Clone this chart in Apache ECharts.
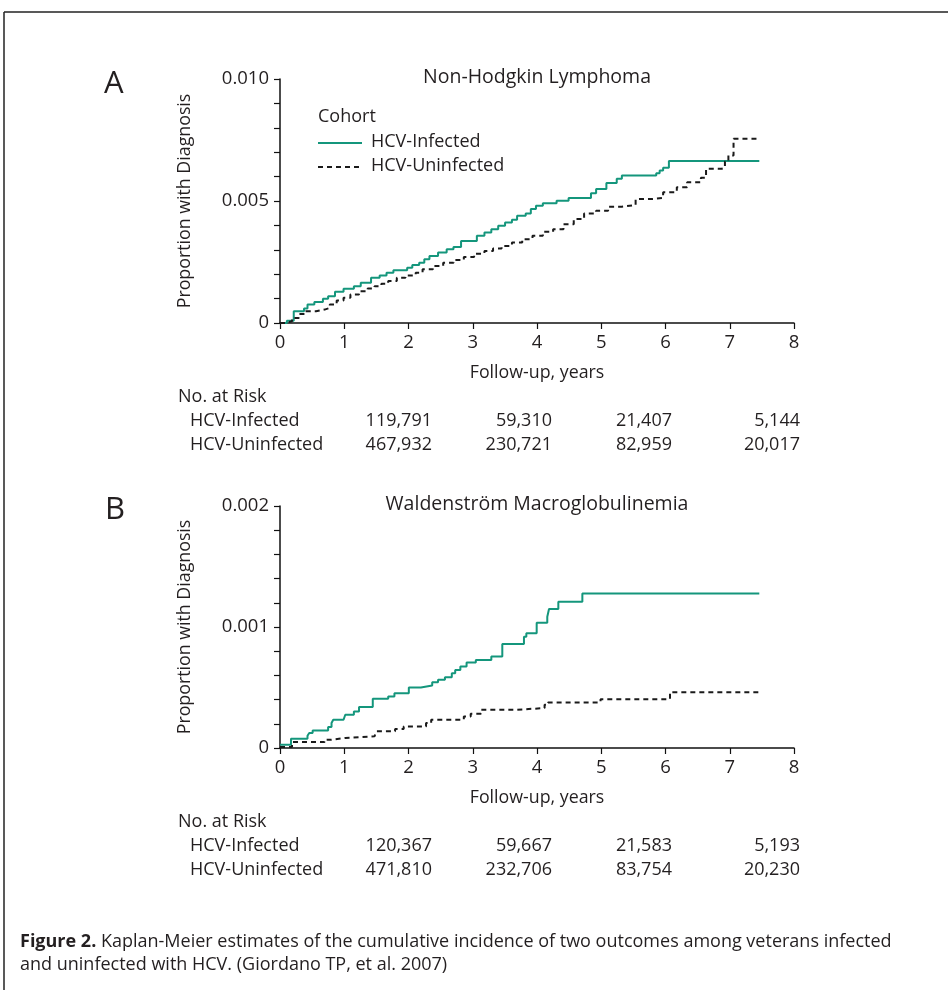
<!DOCTYPE html>
<html><head><meta charset="utf-8">
<style>html,body{margin:0;padding:0;background:#fff}#c{width:948px;height:990px}</style>
<script src="https://cdn.jsdelivr.net/npm/echarts@6/dist/echarts.min.js"></script>
</head><body><div id="c"></div>
<script>
// ---- Data ----
const xTickLabels = ['0','1','2','3','4','5','6','7','8'];
const yTickLabelsA = ['0','0.005','0.010'];
const yTickLabelsB = ['0','0.001','0.002'];
const seriesNames = ['HCV-Infected','HCV-Uninfected'];
const panelTitles = ['Non-Hodgkin Lymphoma','Waldenström Macroglobulinemia'];

// Panel A: HCV-Infected
const tA_inf = [0,0.107,0.214,0.374,0.428,0.535,0.668,0.749,0.856,0.989,1.150,1.257,1.417,1.551,1.658,1.765,1.979,2.059,2.166,2.246,2.326,2.460,2.594,2.700,2.818,3.064,3.182,3.289,3.396,3.503,3.610,3.690,3.824,3.904,3.984,4.091,4.305,4.492,4.840,4.920,5.080,5.241,5.321,5.856,5.909,5.963,6.053,7.46];
const pA_inf = [0,0.000096,0.00048,0.00059,0.000755,0.000865,0.000989,0.001099,0.001277,0.001401,0.001511,0.001648,0.001854,0.001951,0.00206,0.002157,0.002266,0.002376,0.002473,0.00261,0.002747,0.002885,0.003022,0.003118,0.003365,0.003571,0.003709,0.003846,0.003984,0.004121,0.004231,0.004396,0.004492,0.00467,0.004808,0.004904,0.005014,0.005124,0.005316,0.005495,0.005742,0.005907,0.006044,0.00614,0.00625,0.00636,0.006635,0.006635];
// Panel A: HCV-Uninfected
const tA_un = [0,0.08,0.187,0.294,0.401,0.561,0.695,0.775,0.882,0.989,1.096,1.230,1.364,1.471,1.578,1.684,1.818,1.952,2.112,2.219,2.380,2.540,2.701,2.861,3.021,3.182,3.316,3.449,3.610,3.770,3.930,4.091,4.251,4.412,4.572,4.733,4.920,5.107,5.321,5.535,5.802,5.963,6.176,6.337,6.551,6.631,6.872,6.925,6.979,7.059,7.433];
const pA_un = [0,0.000069,0.000206,0.000371,0.000481,0.000549,0.000618,0.000755,0.00092,0.00103,0.001168,0.001305,0.001415,0.001511,0.001607,0.001717,0.001854,0.001951,0.00206,0.002198,0.002335,0.002473,0.002582,0.002706,0.002843,0.002953,0.003049,0.003159,0.003297,0.003434,0.003571,0.003736,0.003846,0.004052,0.004258,0.004492,0.004602,0.004766,0.004835,0.005082,0.005124,0.005357,0.005563,0.005769,0.005948,0.006319,0.00636,0.006621,0.006868,0.007555,0.007555];
// Panel B: HCV-Infected
const tB_inf = [0,0.171,0.428,0.455,0.508,0.749,0.802,0.829,0.989,1.016,1.150,1.230,1.444,1.684,1.781,2.005,2.193,2.369,2.460,2.567,2.674,2.727,2.807,2.904,3.048,3.289,3.460,3.797,3.834,3.995,4.160,4.187,4.332,4.706,7.46];
const pB_inf = [0.0000275,0.0000769,0.0001016,0.0001236,0.0001456,0.0001731,0.000206,0.0002335,0.0002473,0.0002747,0.0003022,0.0003379,0.0004066,0.0004258,0.0004533,0.0005,0.0005165,0.000544,0.0005632,0.0005852,0.0006181,0.0006456,0.0006731,0.000706,0.000728,0.0007555,0.0008599,0.0009203,0.0009478,0.0010357,0.0010852,0.0011484,0.0012088,0.0012775,0.0012775];
// Panel B: HCV-Uninfected
const tB_un = [0,0.187,0.695,0.802,1.016,1.471,1.497,1.791,1.925,2.273,2.353,2.861,2.968,3.128,3.663,4.118,4.171,4.989,6.070,7.46];
const pB_un = [0.000008,0.0000495,0.0000687,0.0000824,0.0000962,0.0001099,0.0001374,0.0001566,0.0001786,0.000206,0.0002335,0.000261,0.000283,0.0003159,0.0003297,0.0003571,0.0003764,0.0004038,0.0004615,0.0004615];

// Numbers at risk
const riskRowLabels = ['HCV-Infected','HCV-Uninfected'];
const riskA_inf = ['119,791','59,310','21,407','5,144'];
const riskA_un  = ['467,932','230,721','82,959','20,017'];
const riskB_inf = ['120,367','59,667','21,583','5,193'];
const riskB_un  = ['471,810','232,706','83,754','20,230'];

// ---- Chart ----
const FONT = '"Open Sans", "Noto Sans", sans-serif';
const TXT = '#231f20';
const GREEN = '#14967c';
const DASH = '#1a1a1a';
const pairs = (t, p) => t.map((v, i) => [v, p[i]]);

function makeYFormatter(step, majorEvery, labels) {
  return function (v) {
    const k = Math.round(v / step);
    if (k % majorEvery !== 0) return '';
    return labels[k / majorEvery] || '';
  };
}

const grids = [
  {left: 280, top: 79, width: 514, height: 244},
  {left: 280, top: 506, width: 514, height: 242}
];

function xAxis(gi) {
  return {
    gridIndex: gi, type: 'value', min: 0, max: 8, interval: 1,
    axisLine: {lineStyle: {color: '#111', width: 1.5}},
    axisTick: {length: 6, lineStyle: {color: '#111', width: 1.2}},
    splitLine: {show: false},
    axisLabel: {color: TXT, fontFamily: FONT, fontSize: 18.5, margin: 10,
      formatter: v => xTickLabels[Math.round(v)]},
    name: 'Follow-up, years', nameLocation: 'middle', nameGap: 41,
    nameTextStyle: {color: TXT, fontFamily: FONT, fontSize: 17.8}
  };
}
function yAxis(gi, max, step, labels) {
  return {
    gridIndex: gi, type: 'value', min: 0, max: max, interval: step,
    axisLine: {show: true, lineStyle: {color: '#111', width: 1.5}},
    axisTick: {show: true, length: 6, lineStyle: {color: '#111', width: 1.2}},
    splitLine: {show: false},
    axisLabel: {color: TXT, fontFamily: FONT, fontSize: 18.5, margin: 11,
      formatter: makeYFormatter(step, 5, labels)},
    name: 'Proportion with Diagnosis', nameLocation: 'middle', nameGap: 86,
    nameTextStyle: {color: TXT, fontFamily: FONT, fontSize: 17.8}
  };
}

function lineSeries(name, gi, data, dashed) {
  return {
    name: name, type: 'line', step: 'end', xAxisIndex: gi, yAxisIndex: gi,
    data: data, symbol: 'none', silent: true, animation: false,
    lineStyle: dashed ? {color: DASH, width: 2, type: [5, 4]} : {color: GREEN, width: 2},
    itemStyle: {color: dashed ? DASH : GREEN}
  };
}

const graphics = [];
// frame
graphics.push({type: 'line', shape: {x1: 4, y1: 12, x2: 948, y2: 12}, style: {stroke: '#222', lineWidth: 1.5}});
graphics.push({type: 'line', shape: {x1: 4, y1: 12, x2: 4, y2: 990}, style: {stroke: '#222', lineWidth: 1.5}});
function text(x, y, s, size, align, weight) {
  graphics.push({type: 'text', x: x, y: y, style: {text: s, fill: TXT, font: (weight || 'normal') + ' ' + size + 'px ' + FONT, textAlign: align || 'left', textVerticalAlign: 'middle'}});
}
// panel letters and titles
text(104, 84, 'A', 31);
text(105, 510, 'B', 31);
text(537, 77, panelTitles[0], 19.5, 'center');
text(537, 504, panelTitles[1], 19.5, 'center');
// legend (Cohort)
text(318, 117, 'Cohort', 18);
graphics.push({type: 'line', shape: {x1: 318, y1: 143, x2: 362, y2: 143}, style: {stroke: GREEN, lineWidth: 2}});
graphics.push({type: 'line', shape: {x1: 318, y1: 167, x2: 362, y2: 167}, style: {stroke: DASH, lineWidth: 2, lineDash: [5, 4]}});
text(371, 142, seriesNames[0], 18);
text(371, 166, seriesNames[1], 18);
// risk tables
const riskX = [432, 552, 672, 800];
function riskTable(y0, rowInf, rowUn) {
  text(178, y0, 'No. at Risk', 18);
  text(190, y0 + 24, riskRowLabels[0], 18);
  text(190, y0 + 48, riskRowLabels[1], 18);
  rowInf.forEach((s, i) => text(riskX[i], y0 + 24, s, 18, 'right'));
  rowUn.forEach((s, i) => text(riskX[i], y0 + 48, s, 18, 'right'));
}
riskTable(397, riskA_inf, riskA_un);
riskTable(822, riskB_inf, riskB_un);
// caption
graphics.push({type: 'text', x: 20, y: 942, style: {
  rich: {b: {font: 'bold 18px ' + FONT, fill: TXT}, n: {font: 'normal 18px ' + FONT, fill: TXT}},
  text: '{b|Figure 2.}{n| Kaplan-Meier estimates of the cumulative incidence of two outcomes among veterans infected}',
  textVerticalAlign: 'middle'}});
text(20, 965, 'and uninfected with HCV. (Giordano TP, et al. 2007)', 18);

const option = {
  backgroundColor: '#fff',
  animation: false,
  grid: grids,
  xAxis: [xAxis(0), xAxis(1)],
  yAxis: [yAxis(0, 0.010, 0.001, yTickLabelsA), yAxis(1, 0.002, 0.0002, yTickLabelsB)],
  series: [
    lineSeries(seriesNames[0], 0, pairs(tA_inf, pA_inf), false),
    lineSeries(seriesNames[1], 0, pairs(tA_un, pA_un), true),
    lineSeries(seriesNames[0], 1, pairs(tB_inf, pB_inf), false),
    lineSeries(seriesNames[1], 1, pairs(tB_un, pB_un), true)
  ],
  graphic: graphics
};
const chart = echarts.init(document.getElementById('c'), null, {renderer: 'canvas'});
chart.setOption(option);
</script></body></html>
